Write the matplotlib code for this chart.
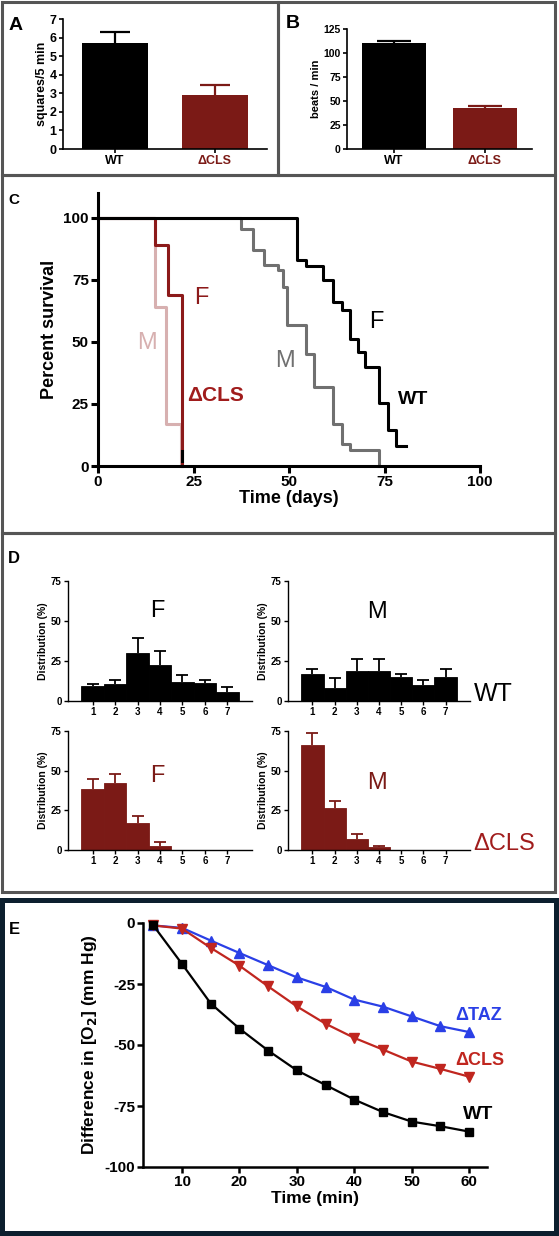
import matplotlib
matplotlib.use("Agg")
import matplotlib.pyplot as plt
from matplotlib.patches import Rectangle
import numpy as np

plt.rcParams['font.family'] = ['Liberation Sans', 'DejaVu Sans']
plt.rcParams['axes.unicode_minus'] = False

# ---- data ----
# A: open field
a_groups = ["WT", "\u0394CLS"]
a_vals = [5.7, 2.9]
a_err = [0.6, 0.55]
# B: heart rate
b_vals = [110, 43]
b_err = [2, 2]
# C: survival (step curves)
wtF_t = [0, 52, 54.5, 59, 61.5, 64, 66, 68, 70, 73.5, 76, 78, 80.5]
wtF_s = [100, 83, 80.5, 75, 66, 63, 51, 46, 40, 25.5, 14.5, 8, 8]
wtM_t = [0, 37.5, 40.5, 43.5, 47, 48.5, 49.5, 54.5, 56.5, 61.5, 64, 66, 73.5]
wtM_s = [100, 95.5, 87, 81, 79, 72, 57, 45, 32, 17, 9, 6.5, 0]
clsF_t = [0, 15, 18.3, 22]
clsF_s = [100, 89, 69, 0]
clsM_t = [0, 15, 17.9, 21.7]
clsM_s = [100, 64, 17, 0]
# D: distributions
d_bins = [1, 2, 3, 4, 5, 6, 7]
wtF_d = [9.6, 10.4, 29.8, 22.5, 12.1, 11.3, 5.8]
wtF_e = [1.0, 2.7, 9.4, 8.7, 4.1, 1.8, 3.2]
wtM_d = [16.9, 8.3, 18.7, 18.5, 14.8, 10.0, 15.0]
wtM_e = [2.9, 6.3, 7.5, 7.7, 2.1, 3.1, 4.8]
clsF_d = [38.2, 42.0, 17.2, 2.7, 0, 0, 0]
clsF_e = [6.8, 5.7, 4.2, 2.3, 0, 0, 0]
clsM_d = [66.2, 26.7, 6.7, 2.0, 0, 0, 0]
clsM_e = [7.3, 4.3, 3.3, 0.8, 0, 0, 0]
# E: oxygen consumption
e_time = [5, 10, 15, 20, 25, 30, 35, 40, 45, 50, 55, 60]
e_wt = [-1, -16.8, -33, -43.3, -52.3, -60.4, -66.4, -72.4, -77.5, -81.4, -83.3, -85.5]
e_cls = [-1, -2.3, -10.2, -17.5, -26, -34.2, -41.3, -47.1, -51.9, -56.8, -59.8, -63]
e_taz = [-1, -2, -7.2, -12.3, -17.3, -22.3, -26.2, -31.4, -34.3, -38.3, -42.3, -44.7]

W, H = 559, 1236
DARKRED = "#7b1a16"
fig = plt.figure(figsize=(W / 100, H / 100), dpi=100)


def px_axes(l, t, r, b):
    return fig.add_axes([l / W, 1 - b / H, (r - l) / W, (b - t) / H])


def px_text(x, y, s, **kw):
    fig.text(x / W, 1 - y / H, s, **kw)


def box(l, t, r, b, color="#555555", lw=2.2):
    fig.patches.append(Rectangle((l / W, 1 - b / H), (r - l) / W, (b - t) / H,
                                 transform=fig.transFigure, fill=False,
                                 edgecolor=color, linewidth=lw))


def upper_err(ax, xi, v, e, col, cap, lw):
    # error bar drawn upward only (no lower cap)
    _, caps, _ = ax.errorbar(xi, v, yerr=[[0], [e]], color=col, capsize=cap,
                             elinewidth=lw, capthick=lw)
    caps[0].set_visible(False)


def style(ax, lw=1.2, size=8, tl=3):
    for s in ["top", "right"]:
        ax.spines[s].set_visible(False)
    for s in ["left", "bottom"]:
        ax.spines[s].set_linewidth(lw)
    ax.tick_params(width=lw, length=tl, labelsize=size, pad=1.5)
    for lab in ax.get_xticklabels() + ax.get_yticklabels():
        lab.set_fontweight("bold")


# panel borders
box(2, 2, 278, 175)
box(278, 2, 555, 175)
box(2, 175, 555, 533)
box(2, 533, 555, 892)
box(2, 900, 556, 1233, color="#0c1f2e", lw=3.6)

# ---- A ----
ax = px_axes(63, 19, 267, 149)
x = np.arange(2)
ax.bar(x, a_vals, width=0.66, color=["black", DARKRED])
for i in range(2):
    upper_err(ax, x[i], a_vals[i], a_err[i], ["black", DARKRED][i], 11, 1.6)
ax.set_xlim(-0.52, 1.52)
ax.set_ylim(0, 7)
ax.set_yticks(range(8))
ax.set_xticks(x)
ax.set_xticklabels(a_groups)
ax.set_ylabel("squares/5 min", fontsize=9, fontweight="bold", labelpad=1)
style(ax, size=9)
ax.get_xticklabels()[1].set_color(DARKRED)
px_text(9, 30, "A", fontsize=14, fontweight="bold")

# ---- B ----
ax = px_axes(347, 29, 532, 149)
ax.bar(x, b_vals, width=0.7, color=["black", DARKRED])
for i in range(2):
    upper_err(ax, x[i], b_vals[i], b_err[i], ["black", DARKRED][i], 12, 1.6)
ax.set_xlim(-0.52, 1.52)
ax.set_ylim(0, 125)
ax.set_yticks([0, 25, 50, 75, 100, 125])
ax.set_xticks(x)
ax.set_xticklabels(a_groups)
ax.set_ylabel("beats / min", fontsize=8, fontweight="bold", labelpad=2)
style(ax, size=7.5)
for lab in ax.get_xticklabels():
    lab.set_fontsize(9)
ax.get_xticklabels()[1].set_color(DARKRED)
px_text(286, 28, "B", fontsize=14, fontweight="bold")

# ---- C ----
ax = px_axes(98, 193, 480, 466)
ax.step(clsM_t, clsM_s, where="post", color="#d7b0b0", lw=2.2, clip_on=False)
ax.step(wtM_t, wtM_s, where="post", color="#707070", lw=2.2, clip_on=False)
ax.step(clsF_t, clsF_s, where="post", color="#8c1a1a", lw=2.2, clip_on=False)
ax.step(wtF_t, wtF_s, where="post", color="black", lw=2.2, clip_on=False)
ax.plot([22, 22], [2, 6], color="black", lw=2.2)
ax.set_xlim(0, 100)
ax.set_ylim(0, 110)
ax.set_yticks([0, 25, 50, 75, 100])
ax.set_xticks([0, 25, 50, 75, 100])
ax.set_ylabel("Percent survival", fontsize=13, fontweight="bold", labelpad=4)
ax.set_xlabel("Time (days)", fontsize=13, fontweight="bold", labelpad=1)
style(ax, lw=2.2, size=11, tl=5)
px_text(8, 204, "C", fontsize=11, fontweight="bold")
px_text(194, 304, "F", fontsize=17, color="#8c1a1a")
px_text(137, 349, "M", fontsize=17, color="#d7b0b0")
px_text(187, 401, "\u0394CLS", fontsize=15, fontweight="bold", color="#a01c1c")
px_text(369, 328, "F", fontsize=17, color="black")
px_text(275, 367, "M", fontsize=17, color="#707070")
px_text(398, 404, "WT", fontsize=14, fontweight="bold", color="black")

# ---- D ----
d_sets = [
    (68, 581, 252, 701, wtF_d, wtF_e, "black", "F", 157, 617),
    (288, 581, 470, 701, wtM_d, wtM_e, "black", "M", 377, 618),
    (68, 731, 252, 850, clsF_d, clsF_e, DARKRED, "F", 157, 782),
    (288, 731, 470, 850, clsM_d, clsM_e, DARKRED, "M", 377, 789),
]
for l, t, r, b, vals, errs, col, lab, tx, ty in d_sets:
    ax = px_axes(l, t, r, b)
    ax.bar(d_bins, vals, width=1.0, color=col, edgecolor=col, linewidth=0.6)
    for xi, v, e in zip(d_bins, vals, errs):
        if e > 0:
            upper_err(ax, xi, v, e, col, 4.5, 1.3)
    ax.set_xlim(-0.1, 8.1)
    ax.set_ylim(0, 75)
    ax.set_yticks([0, 25, 50, 75])
    ax.set_xticks(d_bins)
    ax.set_ylabel("Distribution (%)", fontsize=7.5, fontweight="bold", labelpad=2)
    style(ax, lw=1.0, size=7)
    px_text(tx, ty, lab, fontsize=17, color=col, ha="center")
px_text(8, 563, "D", fontsize=12, fontweight="bold")
px_text(474, 701, "WT", fontsize=18, color="black")
px_text(473, 850, "\u0394CLS", fontsize=17, color="#a01c1c")

# ---- E ----
ax = px_axes(143, 923, 487, 1167)
ax.plot(e_time, e_taz, color="#2a3fe6", marker="^", ms=6.5, lw=1.6, clip_on=False)
ax.plot(e_time, e_cls, color="#c0261f", marker="v", ms=6.5, lw=1.6, clip_on=False)
ax.plot(e_time, e_wt, color="black", marker="s", ms=6, lw=1.6, clip_on=False)
ax.set_xlim(3.2, 63.1)
ax.set_ylim(-100, 0)
ax.set_yticks([0, -25, -50, -75, -100])
ax.set_xticks([10, 20, 30, 40, 50, 60])
ax.set_ylabel("Difference in [O$_\\mathbf{2}$] (mm Hg)", fontsize=12.5,
              fontweight="bold", labelpad=4)
ax.set_xlabel("Time (min)", fontsize=12.5, fontweight="bold", labelpad=2)
style(ax, lw=1.8, size=11, tl=4)
px_text(9, 934, "E", fontsize=12, fontweight="bold")
px_text(455, 1020, "\u0394TAZ", fontsize=13, fontweight="bold", color="#2a3fe6")
px_text(455, 1065, "\u0394CLS", fontsize=13, fontweight="bold", color="#c0261f")
px_text(463, 1119, "WT", fontsize=14, fontweight="bold", color="black")

fig.savefig("out.png", dpi=100)
